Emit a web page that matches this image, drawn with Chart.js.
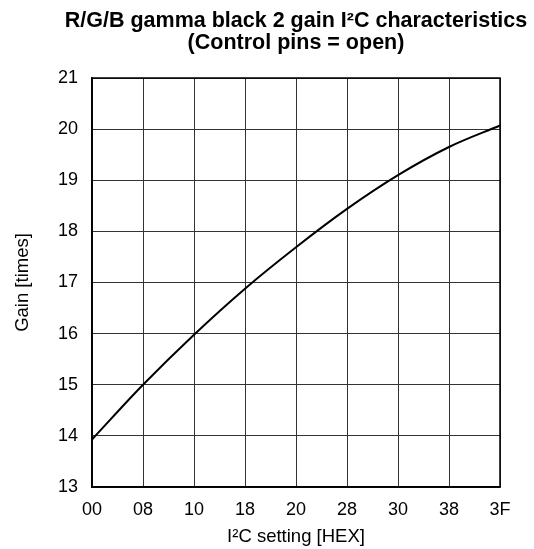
<!DOCTYPE html>
<html lang="en">
<head>
    <meta charset="UTF-8">
    <title>R/G/B gamma black 2 gain</title>
    <script src="https://cdn.jsdelivr.net/npm/chart.js"></script>
    <style>
        body { margin: 0; background: #ffffff; }
        .wrap { width: 534px; height: 549px; }
    </style>
</head>
<body>
    <div class="wrap">
        <canvas id="gainChart" width="534" height="549"></canvas>
    </div>

    <script>
        // I2C setting (hex) and gain
        const settings = ['00', '08', '10', '18', '20', '28', '30', '38', '3F'];
        const gain = [13.93, 15.0, 15.98, 16.88, 17.69, 18.44, 19.1, 19.65, 20.07];
        const yMin = 13, yMax = 21;
        const titleLines = ['R/G/B gamma black 2 gain I\u00B2C characteristics', '(Control pins = open)'];

        const font = 'Arial, "Liberation Sans", sans-serif';

        // title centred over the plot area, plus a dark frame round it
        const framePlugin = {
            id: 'frame',
            afterDraw(chart) {
                const { ctx, chartArea: a } = chart;
                ctx.save();
                ctx.strokeStyle = '#000';
                ctx.lineWidth = 1.5;
                ctx.strokeRect(a.left, a.top, a.right - a.left, a.bottom - a.top);
                ctx.fillStyle = '#000';
                ctx.font = 'bold 21.5px ' + font;
                ctx.textAlign = 'center';
                ctx.textBaseline = 'middle';
                const cx = (a.left + a.right) / 2;
                ctx.fillText(titleLines[0], cx, 21);
                ctx.fillText(titleLines[1], cx, 43);
                ctx.restore();
            }
        };

        new Chart(document.getElementById('gainChart'), {
            type: 'line',
            data: {
                labels: settings,
                datasets: [{
                    data: gain,
                    borderColor: '#000',
                    borderWidth: 2,
                    pointRadius: 0,
                    tension: 0.35,
                    fill: false
                }]
            },
            options: {
                responsive: false,
                animation: false,
                layout: { padding: { top: 78, right: 34, left: 4, bottom: 0 } },
                plugins: {
                    legend: { display: false },
                    tooltip: { enabled: false }
                },
                scales: {
                    x: {
                        offset: false,
                        grid: { color: '#333', lineWidth: 1, drawTicks: false },
                        border: { color: '#000', width: 1.5 },
                        ticks: { color: '#000', font: { size: 18, family: font }, padding: 12, maxRotation: 0 },
                        title: { display: true, text: 'I\u00B2C setting [HEX]', color: '#000', font: { size: 18.5, family: font }, padding: { top: 0, bottom: 1 } },
                        afterFit(s) { s.height = 549 - 487; }
                    },
                    y: {
                        min: yMin,
                        max: yMax,
                        grid: { color: '#333', lineWidth: 1, drawTicks: false },
                        border: { color: '#000', width: 1.5 },
                        ticks: { color: '#000', stepSize: 1, font: { size: 18, family: font }, padding: 14 },
                        title: { display: true, text: 'Gain [times]', color: '#000', font: { size: 18.5, family: font }, padding: { top: 8, bottom: 0 } },
                        afterFit(s) { s.width = 92 - 4; }
                    }
                }
            },
            plugins: [framePlugin]
        });
    </script>
</body>
</html>
